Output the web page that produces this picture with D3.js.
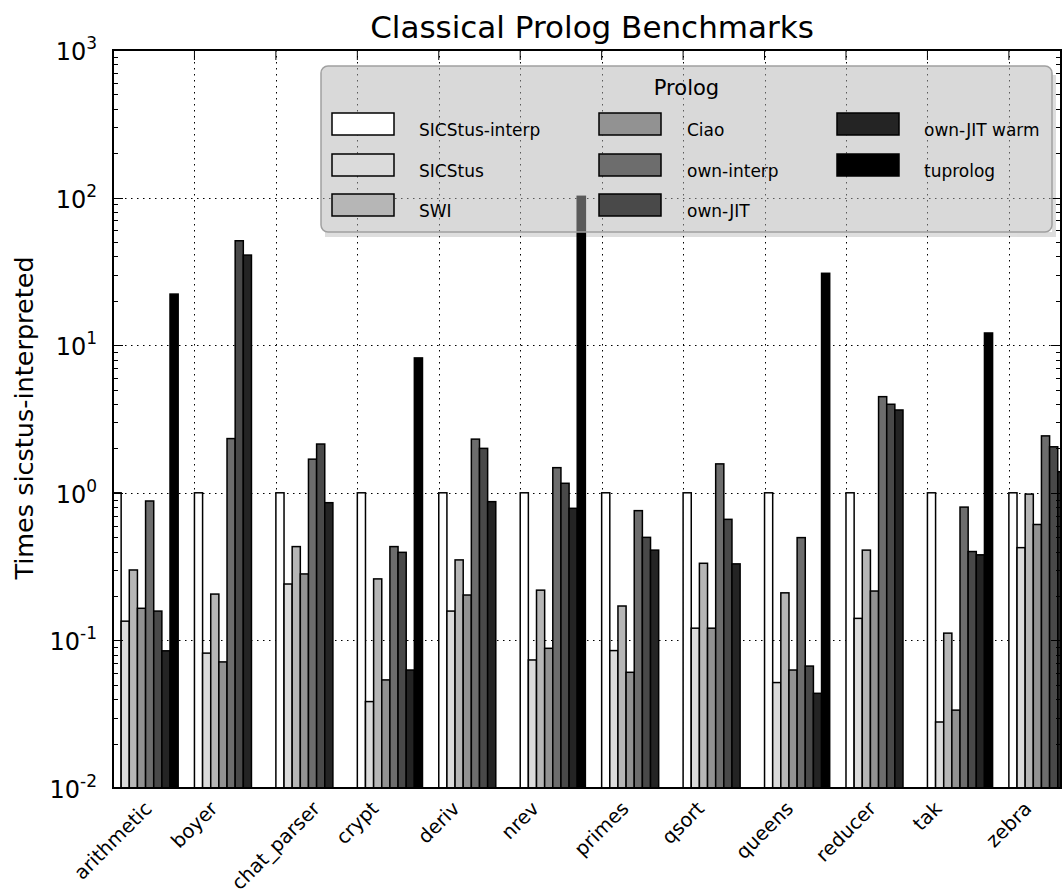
<!DOCTYPE html>
<html>
<head>
<meta charset="utf-8">
<script src="https://cdn.jsdelivr.net/npm/d3@7"></script>
<style>
  body { margin: 0; background: #fff; }
  svg { display: block; font-family: "DejaVu Sans", sans-serif; }
</style>
</head>
<body>
<div id="root"></div>
<script>
const WIDTH = 1063
const HEIGHT = 896
const LEFT = 113
const RIGHT = 1061
const TOP = 50
const BOTTOM = 788
const X_MAX = 11.64
const BAR_WIDTH = 0.1

const categories = ['arithmetic', 'boyer', 'chat_parser', 'crypt', 'deriv', 'nrev',
  'primes', 'qsort', 'queens', 'reducer', 'tak', 'zebra']

const seriesNames = ['SICStus-interp', 'SICStus', 'SWI', 'Ciao', 'own-interp',
  'own-JIT', 'own-JIT warm', 'tuprolog']

const seriesColors = ['#ffffff', '#dbdbdb', '#b6b6b6', '#929292', '#6d6d6d',
  '#494949', '#242424', '#000000']

// values relative to sicstus-interpreted (null = no bar)
const sicstusInterp = [1, 1, 1, 1, 1, 1, 1, 1, 1, 1, 1, 1]
const sicstus = [0.135, 0.082, 0.241, 0.0385, 0.158, 0.0737, 0.0853, 0.121, 0.0518, 0.141, 0.028, 0.425]
const swi = [0.30, 0.206, 0.432, 0.261, 0.351, 0.219, 0.171, 0.333, 0.210, 0.409, 0.112, 0.98]
const ciao = [0.165, 0.0715, 0.282, 0.054, 0.203, 0.0884, 0.0608, 0.121, 0.063, 0.216, 0.0337, 0.61]
const ownInterp = [0.88, 2.33, 1.69, 0.432, 2.31, 1.48, 0.757, 1.57, 0.497, 4.48, 0.80, 2.43]
const ownJit = [0.158, 51, 2.14, 0.395, 2.0, 1.16, 0.499, 0.661, 0.067, 3.98, 0.40, 2.05]
const ownJitWarm = [0.085, 40.8, 0.857, 0.063, 0.871, 0.785, 0.409, 0.330, 0.0438, 3.64, 0.38, 1.39]
const tuprolog = [22.2, null, null, 8.2, null, 102, null, null, 30.7, null, 12.1, null]

const seriesValues = [sicstusInterp, sicstus, swi, ciao, ownInterp, ownJit, ownJitWarm, tuprolog]

const yTicks = [1e-2, 1e-1, 1e0, 1e1, 1e2, 1e3]

const xScale = d3.scaleLinear()
  .domain([0, X_MAX])
  .range([LEFT, RIGHT])

const yScale = d3.scaleLog()
  .domain([1e-2, 1e3])
  .range([BOTTOM, TOP])

const svg = d3.select('#root')
  .append('svg')
  .attr('width', WIDTH)
  .attr('height', HEIGHT)

svg.append('defs')
  .append('clipPath')
  .attr('id', 'plot-clip')
  .append('rect')
  .attr('x', LEFT)
  .attr('y', TOP)
  .attr('width', RIGHT - LEFT)
  .attr('height', BOTTOM - TOP)

// grid
const grid = svg.append('g')
  .attr('stroke', '#000')
  .attr('stroke-width', 1)
  .attr('stroke-dasharray', '1.5,4.5')

grid.selectAll('.hgrid')
  .data(yTicks.slice(1, -1))
  .enter()
  .append('line')
  .attr('x1', LEFT)
  .attr('x2', RIGHT)
  .attr('y1', d => Math.round(yScale(d)) + 0.5)
  .attr('y2', d => Math.round(yScale(d)) + 0.5)

grid.selectAll('.vgrid')
  .data(d3.range(1, categories.length))
  .enter()
  .append('line')
  .attr('x1', d => Math.round(xScale(d)) + 0.5)
  .attr('x2', d => Math.round(xScale(d)) + 0.5)
  .attr('y1', TOP)
  .attr('y2', BOTTOM)

// bars
const bars = []
seriesValues.forEach((vals, s) => {
  vals.forEach((v, i) => {
    if (v !== null) bars.push({ s, i, v })
  })
})

svg.append('g')
  .attr('clip-path', 'url(#plot-clip)')
  .selectAll('rect')
  .data(bars)
  .enter()
  .append('rect')
  .attr('x', d => xScale(d.i + d.s * BAR_WIDTH))
  .attr('width', xScale(BAR_WIDTH) - xScale(0))
  .attr('y', d => yScale(d.v))
  .attr('height', d => BOTTOM - yScale(d.v))
  .attr('fill', d => seriesColors[d.s])
  .attr('stroke', '#000')
  .attr('stroke-width', 1.5)

// minor + major ticks on left and right
const minorTicks = []
for (let e = -2; e < 3; e++) {
  for (let m = 2; m < 10; m++) minorTicks.push(m * Math.pow(10, e))
}
const ticksG = svg.append('g').attr('stroke', '#000').attr('stroke-width', 1)
const addTicks = (vals, len) => {
  ticksG.selectAll(null)
    .data(vals)
    .enter()
    .append('line')
    .attr('x1', LEFT)
    .attr('x2', LEFT + len)
    .attr('y1', d => Math.round(yScale(d)) + 0.5)
    .attr('y2', d => Math.round(yScale(d)) + 0.5)
  ticksG.selectAll(null)
    .data(vals)
    .enter()
    .append('line')
    .attr('x1', RIGHT)
    .attr('x2', RIGHT - len)
    .attr('y1', d => Math.round(yScale(d)) + 0.5)
    .attr('y2', d => Math.round(yScale(d)) + 0.5)
}
addTicks(yTicks, 10)
addTicks(minorTicks, 5)

ticksG.selectAll(null)
  .data(d3.range(categories.length))
  .enter()
  .append('line')
  .attr('x1', d => xScale(d))
  .attr('x2', d => xScale(d))
  .attr('y1', TOP)
  .attr('y2', TOP + 10)

// frame
svg.append('rect')
  .attr('x', LEFT)
  .attr('y', TOP)
  .attr('width', RIGHT - LEFT)
  .attr('height', BOTTOM - TOP)
  .attr('fill', 'none')
  .attr('stroke', '#000')
  .attr('stroke-width', 2)

// y tick labels 10^n
const yLabels = svg.append('g')
  .selectAll('text')
  .data(yTicks)
  .enter()
  .append('text')
  .attr('x', 97)
  .attr('y', d => yScale(d) + 10)
  .attr('text-anchor', 'end')
  .attr('font-size', 24)
yLabels.append('tspan').text('10')
yLabels.append('tspan')
  .attr('dy', -11)
  .attr('font-size', 17)
  .text(d => String(Math.round(Math.log10(d))))

// x tick labels rotated 45deg, rotated bbox centred on tick
const X_FONT = 19.5
svg.append('g')
  .selectAll('text')
  .data(categories)
  .enter()
  .append('text')
  .attr('font-size', X_FONT)
  .attr('text-anchor', 'middle')
  .attr('dominant-baseline', 'central')
  .text(d => d)
  .attr('transform', function (d, i) {
    const len = this.getComputedTextLength()
    const h = X_FONT * 1.05
    const half = (len + h) / (2 * Math.SQRT2)
    return `translate(${xScale(i)}, ${BOTTOM + 10 + half}) rotate(-45)`
  })

// title and y label
svg.append('text')
  .attr('x', 592)
  .attr('y', 38)
  .attr('text-anchor', 'middle')
  .attr('font-size', 31)
  .text('Classical Prolog Benchmarks')

svg.append('text')
  .attr('transform', `translate(33, ${(TOP + BOTTOM) / 2 - 1}) rotate(-90)`)
  .attr('text-anchor', 'middle')
  .attr('font-size', 25.5)
  .text('Times sicstus-interpreted')

// legend
const LEG_X = 321
const LEG_Y = 66
const LEG_W = 731
const LEG_H = 166
const SHADOW_DX = 4
const SHADOW_DY = 5
const colPatchX = [332, 599, 837]
const colTextX = [419, 687, 924]
const rowY = [124, 165, 205]

const legend = svg.append('g').attr('id', 'legend')
const shadow = legend.append('g').attr('fill', '#000').attr('opacity', 0.13)
shadow.append('rect')
  .attr('x', LEG_X + SHADOW_DX)
  .attr('y', LEG_Y + LEG_H)
  .attr('width', LEG_W)
  .attr('height', SHADOW_DY)
shadow.append('rect')
  .attr('x', LEG_X + LEG_W)
  .attr('y', LEG_Y + SHADOW_DY + 4)
  .attr('width', SHADOW_DX)
  .attr('height', LEG_H - SHADOW_DY - 4)
legend.append('rect')
  .attr('x', LEG_X)
  .attr('y', LEG_Y)
  .attr('width', LEG_W)
  .attr('height', LEG_H)
  .attr('rx', 7)
  .attr('fill', '#b3b3b3')
  .attr('fill-opacity', 0.5)
  .attr('stroke', '#a0a0a0')
  .attr('stroke-width', 1.5)
legend.append('text')
  .attr('x', LEG_X + LEG_W / 2)
  .attr('y', 95)
  .attr('text-anchor', 'middle')
  .attr('font-size', 21)
  .text('Prolog')

const items = legend.selectAll('.legend_item')
  .data(seriesNames)
  .enter()
  .append('g')

items.append('rect')
  .attr('x', (_, i) => colPatchX[Math.floor(i / 3)])
  .attr('y', (_, i) => rowY[i % 3] - 11)
  .attr('width', 62)
  .attr('height', 22)
  .attr('fill', (_, i) => seriesColors[i])
  .attr('stroke', '#000')
  .attr('stroke-width', 1.5)

items.append('text')
  .attr('x', (_, i) => colTextX[Math.floor(i / 3)])
  .attr('y', (_, i) => rowY[i % 3] + 12)
  .attr('font-size', 17)
  .text(d => d)
</script>
</body>
</html>
